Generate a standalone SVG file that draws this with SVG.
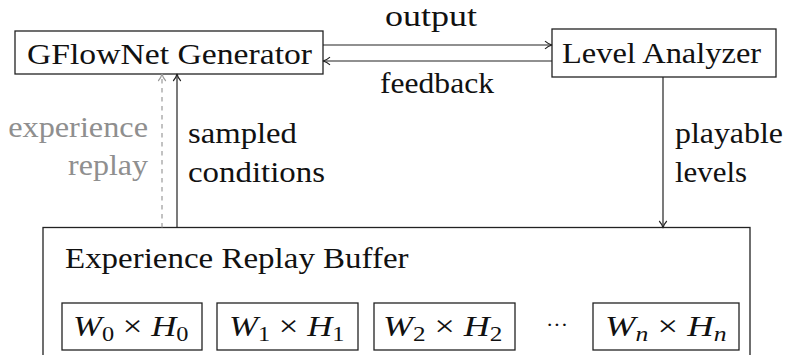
<svg xmlns="http://www.w3.org/2000/svg" width="788" height="355" viewBox="0 0 788 355">
<defs>
<marker id="arr" viewBox="0 0 10 10" refX="9" refY="5" markerWidth="10" markerHeight="10" markerUnits="userSpaceOnUse" orient="auto">
<path d="M2,1.2 Q5,4 9,5 Q5,6 2,8.8" fill="none" stroke="#222" stroke-width="1.1"/>
</marker>
<marker id="arrg" viewBox="0 0 10 10" refX="9" refY="5" markerWidth="10" markerHeight="10" markerUnits="userSpaceOnUse" orient="auto">
<path d="M2,1.2 Q5,4 9,5 Q5,6 2,8.8" fill="none" stroke="#9a9a9a" stroke-width="1.1"/>
</marker>
</defs>

<g id="generator">
<rect x="15" y="31" width="308" height="43" fill="#fff" stroke="#222" stroke-width="1.3"/>
<text style="font-family:'Liberation Serif',serif !important" font-family="Liberation Serif" font-size="30" fill="#111" transform="translate(27,64) scale(1.122,1)">GFlowNet Generator</text>
</g>

<g id="analyzer">
<rect x="552" y="29" width="224" height="48" fill="#fff" stroke="#222" stroke-width="1.3"/>
<text style="font-family:'Liberation Serif',serif !important" font-family="Liberation Serif" font-size="30" fill="#111" transform="translate(562,63) scale(1.082,1)">Level Analyzer</text>
</g>

<g id="buffer">
<rect x="43" y="227.5" width="707" height="150" fill="#fff" stroke="#222" stroke-width="1.3"/>
<text style="font-family:'Liberation Serif',serif !important" font-family="Liberation Serif" font-size="30" fill="#111" transform="translate(65,268) scale(1.099,1)">Experience Replay Buffer</text>
</g>

<g id="w0">
<rect x="62" y="303" width="140" height="47" fill="#fff" stroke="#222" stroke-width="1.3"/>
<text style="font-family:'Liberation Serif',serif !important" font-family="Liberation Serif" font-size="30" fill="#111" transform="translate(73,336) scale(1.16,1)"><tspan font-style="italic">W</tspan><tspan font-size="21" dy="4.5">0</tspan><tspan dy="-4.5"> &#215; </tspan><tspan font-style="italic">H</tspan><tspan font-size="21" dy="4.5">0</tspan></text>
</g>
<g id="w1">
<rect x="217" y="303" width="141" height="47" fill="#fff" stroke="#222" stroke-width="1.3"/>
<text style="font-family:'Liberation Serif',serif !important" font-family="Liberation Serif" font-size="30" fill="#111" transform="translate(229,336) scale(1.16,1)"><tspan font-style="italic">W</tspan><tspan font-size="21" dy="4.5">1</tspan><tspan dy="-4.5"> &#215; </tspan><tspan font-style="italic">H</tspan><tspan font-size="21" dy="4.5">1</tspan></text>
</g>
<g id="w2">
<rect x="374" y="303" width="141" height="47" fill="#fff" stroke="#222" stroke-width="1.3"/>
<text style="font-family:'Liberation Serif',serif !important" font-family="Liberation Serif" font-size="30" fill="#111" transform="translate(383,336) scale(1.2,1)"><tspan font-style="italic">W</tspan><tspan font-size="21" dy="4.5">2</tspan><tspan dy="-4.5"> &#215; </tspan><tspan font-style="italic">H</tspan><tspan font-size="21" dy="4.5">2</tspan></text>
</g>
<g id="dots">
<text style="font-family:'Liberation Serif',serif !important" font-family="Liberation Serif" font-size="22" fill="#111" x="557" y="332" text-anchor="middle">&#183;&#183;&#183;</text>
</g>
<g id="wn">
<rect x="593" y="303" width="146" height="47" fill="#fff" stroke="#222" stroke-width="1.3"/>
<text style="font-family:'Liberation Serif',serif !important" font-family="Liberation Serif" font-size="30" fill="#111" transform="translate(605,336) scale(1.22,1)"><tspan font-style="italic">W</tspan><tspan font-size="21" font-style="italic" dy="4.5">n</tspan><tspan dy="-4.5"> &#215; </tspan><tspan font-style="italic">H</tspan><tspan font-size="21" font-style="italic" dy="4.5">n</tspan></text>
</g>

<g id="connectors">
<line x1="323" y1="45" x2="552" y2="45" stroke="#222" stroke-width="1.2" marker-end="url(#arr)"/>
<line x1="552" y1="61" x2="323" y2="61" stroke="#222" stroke-width="1.2" marker-end="url(#arr)"/>
<line x1="663" y1="77" x2="663" y2="228" stroke="#222" stroke-width="1.2" marker-end="url(#arr)"/>
<line x1="177" y1="227.5" x2="177" y2="74" stroke="#222" stroke-width="1.2" marker-end="url(#arr)"/>
<line x1="162" y1="227.5" x2="162" y2="74" stroke="#9a9a9a" stroke-width="1.2" stroke-dasharray="4.5 4.5" marker-end="url(#arrg)"/>
<text style="font-family:'Liberation Serif',serif !important" font-family="Liberation Serif" font-size="30" fill="#111" transform="translate(385,26) scale(1.2,1)">output</text>
<text style="font-family:'Liberation Serif',serif !important" font-family="Liberation Serif" font-size="30" fill="#111" transform="translate(380,93) scale(1.053,1)">feedback</text>
<text style="font-family:'Liberation Serif',serif !important" font-family="Liberation Serif" font-size="30" fill="#8f8f8f" text-anchor="end" transform="translate(148,137) scale(1.077,1)">experience</text>
<text style="font-family:'Liberation Serif',serif !important" font-family="Liberation Serif" font-size="30" fill="#8f8f8f" text-anchor="end" transform="translate(148,175) scale(1.067,1)">replay</text>
<text style="font-family:'Liberation Serif',serif !important" font-family="Liberation Serif" font-size="30" fill="#111" transform="translate(188,143) scale(1.09,1)">sampled</text>
<text style="font-family:'Liberation Serif',serif !important" font-family="Liberation Serif" font-size="30" fill="#111" transform="translate(188,182) scale(1.096,1)">conditions</text>
<text style="font-family:'Liberation Serif',serif !important" font-family="Liberation Serif" font-size="30" fill="#111" transform="translate(675,143) scale(1.063,1)">playable</text>
<text style="font-family:'Liberation Serif',serif !important" font-family="Liberation Serif" font-size="30" fill="#111" transform="translate(675,182) scale(1.03,1)">levels</text>
</g>
</svg>
